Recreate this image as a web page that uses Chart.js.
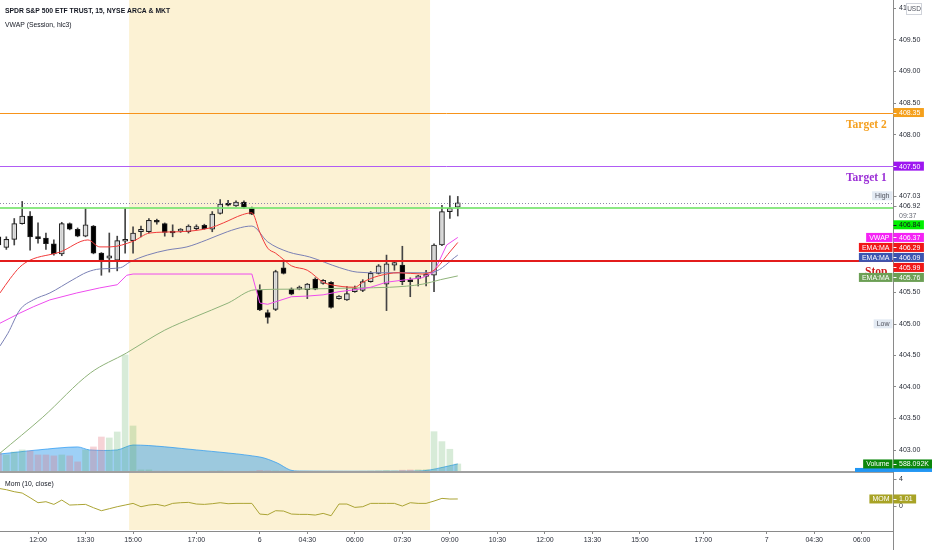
<!DOCTYPE html>
<html>
<head>
<meta charset="utf-8">
<title>SPY 15</title>
<script src="https://cdn.jsdelivr.net/npm/chart.js@4.4.1/dist/chart.umd.min.js"></script>
<style>
  html, body { margin: 0; padding: 0; background: #fff; }
  #wrap { width: 932px; height: 550px; }
</style>
</head>
<body>
<div id="wrap"><canvas id="spy" width="932" height="550"></canvas></div>
<script>
// bar index 0 = 12:00 on the 5th, one step = 15 minutes
const firstBar = -5;
const opens = [406.38,406.21,406.34,406.59,406.71,406.38,406.36,406.27,406.11,406.59,
  406.50,406.39,406.55,406.12,406.04,406.01,406.31,406.32,406.46,406.46,
  406.64,406.59,406.47,406.47,406.46,406.51,406.56,406.50,406.75,406.91,
  406.87,406.93,406.83,405.53,405.18,405.23,405.89,405.55,405.55,405.54,
  405.71,405.64,405.66,405.40,405.38,405.51,405.53,405.67,405.80,405.63,
  405.93,405.93,405.70,405.72,405.75,405.77,406.25,406.78,406.85];
const highs = [406.42,406.38,406.67,406.94,406.78,406.60,406.44,406.33,406.61,406.60,
  406.52,406.83,406.56,406.13,406.44,406.39,406.83,406.54,406.55,406.67,
  406.66,406.60,406.57,406.51,406.57,406.57,406.58,406.78,406.97,406.96,
  406.95,406.95,406.85,405.62,405.22,405.85,406.01,405.57,405.60,405.64,
  405.73,405.70,405.67,405.45,405.59,405.60,405.70,405.83,405.94,406.09,
  405.99,406.23,405.73,405.77,405.85,406.27,406.88,407.03,407.02];
const lows = [406.22,406.18,406.25,406.58,406.17,406.28,406.18,406.09,406.08,406.49,
  406.38,406.38,406.11,405.77,405.82,405.84,406.12,406.12,406.38,406.44,
  406.58,406.39,406.38,406.45,406.44,406.49,406.50,406.46,406.74,406.87,
  406.86,406.83,406.73,405.21,405.01,405.21,405.79,405.46,405.54,405.40,
  405.54,405.63,405.25,405.39,405.37,405.50,405.51,405.66,405.79,405.21,
  405.85,405.62,405.43,405.60,405.60,405.51,406.24,406.67,406.71];
const closes = [406.25,406.34,406.59,406.71,406.38,406.35,406.27,406.11,406.59,406.50,
  406.39,406.57,406.12,406.01,406.08,406.32,406.34,406.44,406.50,406.64,
  406.61,406.45,406.44,406.50,406.55,406.54,406.51,406.74,406.90,406.88,
  406.93,406.85,406.74,405.22,405.10,405.83,405.80,405.47,405.58,405.63,
  405.55,405.69,405.26,405.44,405.48,405.56,405.67,405.80,405.92,405.95,
  405.97,405.67,405.67,405.76,405.79,406.25,406.78,406.83,406.92];
// volume in thousands
const volumes = [1400,1250,1470,1620,1540,1250,1250,1180,1250,1180,
  740,1620,1840,2570,2500,2940,8600,3380,150,150,
  60,50,40,40,50,40,40,60,70,50,
  40,40,50,110,80,70,60,40,30,40,
  40,30,50,40,40,40,50,60,70,100,
  70,130,150,160,170,2960,2230,1670,588];
const volumeMa = [[-4.8,1320],[0,1620],[5,1840],[6.5,1620],[10,1620],[12,1980],[20,1620],
  [28,1100],[30.2,660],[31.8,150],[33,70],[48,70],[49.5,150],[53,590]];
const momentum = [2.6,2.4,2.1,1.9,1.2,0.45,0.6,0.2,0.85,0.1,
  0.15,0.2,-0.3,-0.75,-0.45,-0.15,0.1,0.35,-0.15,0.1,
  0.2,-0.05,0.35,0.45,0.5,0.25,0.2,0.3,0.45,0.3,
  0.35,0.35,0.35,-1.25,-1.35,-0.75,-0.8,-1.25,-1.3,-1.3,
  -1.4,-1.15,-1.5,0.25,0.25,-0.25,-0.15,0.35,0.35,0.35,
  0.35,-0.05,0.45,0.35,0.35,0.7,1.1,1.0,1.01];

// [bar index, price]
const emaFast = [[-4.8,405.49],[-3.5,405.72],[-2.3,405.90],[-1,406.01],[2.8,406.14],[6.3,406.33],
  [7.8,406.22],[9.1,406.22],[12,406.31],[14.1,406.44],[17.7,406.46],[21.7,406.52],[23.4,406.60],
  [25.8,406.73],[27,406.76],[28,406.45],[29,406.20],[30,406.12],[31,406.02],[32,405.92],
  [34,405.85],[36,405.66],[37,405.62],[40,405.58],[41,405.66],[43,405.76],[45.5,405.81],
  [48.5,405.79],[50,405.85],[52,406.14],[53,406.29]];
const emaMid = [[-4.8,404.65],[-3.8,404.85],[-2.3,405.22],[-0.6,405.38],[1.5,405.49],[4.4,405.70],
  [6.2,405.82],[7.8,405.87],[10.4,405.89],[11.6,405.98],[13.8,406.09],[16.3,406.17],[18.8,406.22],
  [21.3,406.33],[23.9,406.46],[26.1,406.54],[27,406.55],[29,406.30],[31.6,406.14],[34.3,406.06],
  [38.1,405.89],[40.3,405.82],[42.8,405.81],[48.6,405.81],[49.9,405.82],[53,406.09]];
const emaSlow = [[-4.8,402.95],[0.6,403.52],[6.6,404.22],[11.2,404.54],[13.8,404.74],[16,404.90],
  [19.8,405.11],[24,405.33],[27.4,405.54],[32.4,405.55],[40.3,405.57],[44.4,405.58],
  [48.6,405.63],[50.8,405.70],[53,405.76]];
const vwap = [[-4.8,405.01],[-2.3,405.17],[-0.6,405.27],[1.5,405.38],[4.9,405.49],[7.8,405.57],
  [10,405.62],[11.2,405.77],[12,405.79],[27,405.79],[28,405.33],[29,405.31],[30,405.35],
  [32,405.43],[34,405.44],[36,405.46],[38,405.51],[40,405.54],[42,405.58],[44,405.66],
  [46.5,405.70],[48.5,405.73],[50,405.82],[51.6,406.25],[53,406.37]];

const timeTickIdx = [0,6,12,20,28,34,40,46,52,58,64,70,76,84,92,98,104];
const timeTickText = ['12:00','13:30','15:00','17:00','6','04:30','06:00','07:30','09:00',
  '10:30','12:00','13:30','15:00','17:00','7','04:30','06:00'];
const priceTicks = [410, 409.5, 409, 408.5, 408, 405.5, 404.5, 404, 403.5, 403];
const momTicks = [4, 0];

const extendedHours = [11.5, 49.5];
const targetLevels = [407.50, 408.35];
const entryLevel = 406.84;
const stopLevel = 405.99;
const lastPrice = 406.92;
const sessionHigh = 407.03;
const sessionLow = 405.00;
const countdown = '09:37';
const lastVolumeText = '588.092K';

const FONT = '"Liberation Sans", Arial, sans-serif';
Chart.defaults.font.family = FONT;

const isUp = opens.map((o, i) => closes[i] >= o);
const pts = arr => arr.map(([x, y]) => ({ x, y }));

function squeezed(ctx, text, x, y, font, color, sx) {
  ctx.save();
  ctx.font = font;
  ctx.fillStyle = color;
  ctx.textAlign = 'left';
  ctx.textBaseline = 'middle';
  ctx.translate(x, y);
  ctx.scale(sx, 1);
  ctx.fillText(text, 0, 0);
  ctx.restore();
}

function valueTag(ctx, yc, text, bg, fg) {
  ctx.font = '7px ' + FONT;
  const w = ctx.measureText(text).width;
  if (bg) {
    ctx.fillStyle = bg;
    ctx.fillRect(893.5, yc - 4.5, w + 9, 9);
  }
  ctx.fillStyle = fg;
  ctx.textAlign = 'left';
  ctx.textBaseline = 'middle';
  ctx.fillText(text, 899, yc + 0.5);
  ctx.strokeStyle = bg ? fg : '#8a8a8a';
  ctx.lineWidth = 1;
  ctx.beginPath();
  ctx.moveTo(893.5, Math.round(yc) + 0.5);
  ctx.lineTo(896.5, Math.round(yc) + 0.5);
  ctx.stroke();
}

function nameTag(ctx, yc, text, bg, fg) {
  ctx.font = '7px ' + FONT;
  const w = ctx.measureText(text).width + 6;
  ctx.fillStyle = bg;
  ctx.fillRect(892.5 - w, yc - 4.5, w, 9);
  ctx.fillStyle = fg;
  ctx.textAlign = 'left';
  ctx.textBaseline = 'middle';
  ctx.fillText(text, 895.5 - w, yc + 0.5);
}

const decor = {
  id: 'decor',
  beforeDatasetsDraw(chart) {
    const { ctx, chartArea: a, scales } = chart;
    const x0 = scales.x.getPixelForValue(extendedHours[0]);
    const x1 = scales.x.getPixelForValue(extendedHours[1]);
    ctx.save();
    ctx.fillStyle = '#fcf2d4';
    ctx.fillRect(x0, a.top, x1 - x0, a.bottom - a.top - 1);
    ctx.restore();
  },
  afterDatasetsDraw(chart) {
    const { ctx, chartArea: a, scales } = chart;
    const hline = (v, color, width, dash) => {
      const py = Math.round(scales.y.getPixelForValue(v)) + (width % 2 ? 0.5 : 0);
      ctx.beginPath();
      ctx.setLineDash(dash || []);
      ctx.strokeStyle = color;
      ctx.lineWidth = width;
      ctx.moveTo(a.left, py);
      ctx.lineTo(a.right, py);
      ctx.stroke();
    };
    ctx.save();
    hline(targetLevels[1], '#f7931a', 1);
    hline(targetLevels[0], '#b05cf5', 1);
    hline(lastPrice, '#8f86a8', 1, [1, 2]);
    hline(entryLevel, 'rgba(120,228,110,0.85)', 2);
    hline(stopLevel, '#e31c1c', 2);
    ctx.setLineDash([]);
    const sep = Math.round(scales.yv.getPixelForValue(0));
    ctx.strokeStyle = '#a0a0a0';
    ctx.lineWidth = 2;
    ctx.beginPath();
    ctx.moveTo(a.left, sep);
    ctx.lineTo(a.right, sep);
    ctx.stroke();
    ctx.restore();
  },
  afterDraw(chart) {
    const { ctx, chartArea: a, scales } = chart;
    const y = scales.y;
    ctx.save();

    // axis line down to the bottom edge
    ctx.strokeStyle = '#8a8a8a';
    ctx.lineWidth = 1;
    ctx.beginPath();
    ctx.moveTo(a.right + 0.5, 0);
    ctx.lineTo(a.right + 0.5, chart.height);
    ctx.stroke();

    squeezed(ctx, 'SPDR S&P 500 ETF TRUST, 15, NYSE ARCA & MKT', 5, 11, 'bold 8px ' + FONT, '#131722', 0.85);
    squeezed(ctx, 'VWAP (Session, hlc3)', 5, 25, '8px ' + FONT, '#131722', 0.85);
    squeezed(ctx, 'Mom (10, close)', 5, 484, '8px ' + FONT, '#131722', 0.85);

    // USD badge over the top tick
    ctx.fillStyle = '#fff';
    ctx.fillRect(906, 3, 16, 12);
    ctx.strokeStyle = '#d0d3da';
    ctx.strokeRect(906.5, 3.5, 15, 11);
    ctx.font = '6.5px ' + FONT;
    ctx.fillStyle = '#50535e';
    ctx.textAlign = 'center';
    ctx.textBaseline = 'middle';
    ctx.fillText('USD', 914, 9.5);

    // drawn texts near the right edge
    ctx.font = 'bold 11.5px "Liberation Serif", "Times New Roman", serif';
    ctx.textAlign = 'left';
    ctx.textBaseline = 'alphabetic';
    ctx.fillStyle = '#f5a020';
    ctx.fillText('Target 2', 846, y.getPixelForValue(targetLevels[1]) + 15);
    ctx.fillStyle = '#9b2fd6';
    ctx.fillText('Target 1', 846, y.getPixelForValue(targetLevels[0]) + 14.5);
    ctx.fillStyle = '#cc1a1a';
    ctx.fillText('Stop', 865, y.getPixelForValue(stopLevel) + 14);

    valueTag(ctx, y.getPixelForValue(targetLevels[1]), targetLevels[1].toFixed(2), '#f5a01c', '#fff');
    valueTag(ctx, y.getPixelForValue(targetLevels[0]), targetLevels[0].toFixed(2), '#9d17f0', '#fff');

    const last = arr => arr[arr.length - 1][1];
    const stack = [
      { v: sessionHigh, name: 'High', nb: '#e3eaf3', nf: '#50535e', bg: null, fg: '#2a2e39' },
      { v: lastPrice, bg: null, fg: '#2a2e39', sub: countdown },
      { v: entryLevel, bg: '#00f000', fg: '#131722' },
      { v: last(vwap), name: 'VWAP', nb: '#f522f5', nf: '#fff', bg: '#f522f5', fg: '#fff' },
      { v: last(emaFast), name: 'EMA:MA', nb: '#f01818', nf: '#fff', bg: '#f01818', fg: '#fff' },
      { v: last(emaMid), name: 'EMA:MA', nb: '#3c55b0', nf: '#fff', bg: '#3c55b0', fg: '#fff' },
      { v: stopLevel, bg: '#f01818', fg: '#fff' },
      { v: last(emaSlow), name: 'EMA:MA', nb: '#6c9f55', nf: '#fff', bg: '#6c9f55', fg: '#fff' }
    ];
    let floor = -Infinity;
    stack.forEach(l => {
      let top = Math.max(y.getPixelForValue(l.v) - 5, floor);
      const c = top + 5;
      if (l.name) nameTag(ctx, c, l.name, l.nb, l.nf);
      valueTag(ctx, c, l.v.toFixed(2), l.bg, l.fg);
      if (l.sub) {
        ctx.fillStyle = '#6a6d78';
        ctx.fillText(l.sub, 899, c + 10.5);
      }
      floor = top + (l.sub ? 19 : 10);
    });

    const lowY = y.getPixelForValue(sessionLow);
    nameTag(ctx, lowY, 'Low', '#e3eaf3', '#50535e');
    valueTag(ctx, lowY, sessionLow.toFixed(2), null, '#2a2e39');

    // volume pane tags
    const vy = scales.yv.getPixelForValue(volumes[volumes.length - 1]);
    ctx.fillStyle = '#2196f3';
    ctx.fillRect(855, vy + 4, 77, 4);
    nameTag(ctx, vy, 'Volume', '#0b870b', '#fff');
    valueTag(ctx, vy, lastVolumeText, '#0b870b', '#fff');

    // momentum pane axis and tag
    const m = scales.ym;
    momTicks.forEach(t => valueTag(ctx, m.getPixelForValue(t), String(t), null, '#2a2e39'));
    const mv = momentum[momentum.length - 1];
    nameTag(ctx, m.getPixelForValue(mv), 'MOM', '#a8a326', '#fff');
    valueTag(ctx, m.getPixelForValue(mv), mv.toFixed(2), '#a8a326', '#fff');

    ctx.restore();
  }
};

// scale ranges chosen so the panes sit where the reference has them
const xMin = -4.8, xMax = 107.95;
const priceMax = 410.134, priceMin = 401.716;

const candleX = i => i + firstBar;
const noPad = s => { s.paddingTop = 0; s.paddingBottom = 0; s.paddingLeft = 0; s.paddingRight = 0; };

new Chart(document.getElementById('spy'), {
  type: 'bar',
  data: {
    datasets: [
      {
        type: 'line', label: 'EMA fast', data: pts(emaFast), yAxisID: 'y',
        borderColor: '#f23b3b', borderWidth: 1, pointRadius: 0, cubicInterpolationMode: 'monotone', order: 1
      },
      {
        type: 'line', label: 'EMA mid', data: pts(emaMid), yAxisID: 'y',
        borderColor: '#7a80b5', borderWidth: 1, pointRadius: 0, cubicInterpolationMode: 'monotone', order: 1
      },
      {
        type: 'line', label: 'VWAP', data: pts(vwap), yAxisID: 'y',
        borderColor: '#ee4cee', borderWidth: 1, pointRadius: 0, tension: 0, order: 1
      },
      {
        type: 'line', label: 'EMA slow', data: pts(emaSlow), yAxisID: 'y',
        borderColor: '#8fb37a', borderWidth: 1, pointRadius: 0, cubicInterpolationMode: 'monotone', order: 1
      },
      {
        label: 'bodies', yAxisID: 'y', grouped: false, order: 2,
        data: opens.map((o, i) => ({ x: candleX(i), y: [o, closes[i]] })),
        backgroundColor: isUp.map(u => u ? 'rgba(255,255,255,0.75)' : '#000'),
        borderColor: '#1e1e1e', borderWidth: 1, borderSkipped: false,
        barThickness: 5, minBarLength: 2
      },
      {
        label: 'wicks', yAxisID: 'y', grouped: false, order: 3,
        data: highs.map((h, i) => ({ x: candleX(i), y: [lows[i], h] })),
        backgroundColor: '#444', barThickness: 1
      },
      {
        type: 'line', label: 'Mom', data: momentum.map((v, i) => ({ x: candleX(i), y: v })), yAxisID: 'ym',
        borderColor: '#aba434', borderWidth: 1, pointRadius: 0, tension: 0, order: 4
      },
      {
        label: 'Volume', yAxisID: 'yv', grouped: false, order: 5,
        data: volumes.map((v, i) => ({ x: candleX(i), y: v })),
        backgroundColor: isUp.map(u => u ? 'rgba(86,170,90,0.24)' : 'rgba(226,110,120,0.3)'),
        barThickness: 6
      },
      {
        type: 'line', label: 'Volume MA', data: pts(volumeMa), yAxisID: 'yv',
        borderColor: 'rgba(33,150,243,0.7)', borderWidth: 1, backgroundColor: 'rgba(41,150,235,0.45)',
        fill: 'origin', pointRadius: 0, tension: 0.3, order: 6
      }
    ]
  },
  options: {
    responsive: false,
    animation: false,
    layout: { padding: 0 },
    plugins: { legend: { display: false }, tooltip: { enabled: false } },
    scales: {
      x: {
        type: 'linear', min: xMin, max: xMax, offset: false,
        afterBuildTicks: s => { s.ticks = timeTickIdx.map(v => ({ value: v })); },
        afterFit: s => { s.height = 19; noPad(s); },
        ticks: {
          autoSkip: false, maxRotation: 0, padding: 2, color: '#2a2e39', font: { size: 7 },
          callback: v => timeTickText[timeTickIdx.indexOf(v)]
        },
        grid: { offset: false, drawOnChartArea: false, drawTicks: true, tickLength: 3, color: '#8a8a8a' },
        border: { color: '#8a8a8a' }
      },
      y: {
        position: 'right', min: priceMin, max: priceMax,
        afterBuildTicks: s => { s.ticks = priceTicks.map(v => ({ value: v })); },
        afterFit: s => { s.width = 39; noPad(s); },
        ticks: { padding: 3, color: '#2a2e39', font: { size: 7 }, callback: v => v.toFixed(2) },
        grid: { drawOnChartArea: false, drawTicks: true, tickLength: 3, color: '#8a8a8a' },
        border: { color: '#8a8a8a' }
      },
      yv: { display: false, min: -4340, max: 34690 },
      ym: { display: false, min: -3.79, max: 75.8 }
    }
  },
  plugins: [decor]
});
</script>
</body>
</html>
